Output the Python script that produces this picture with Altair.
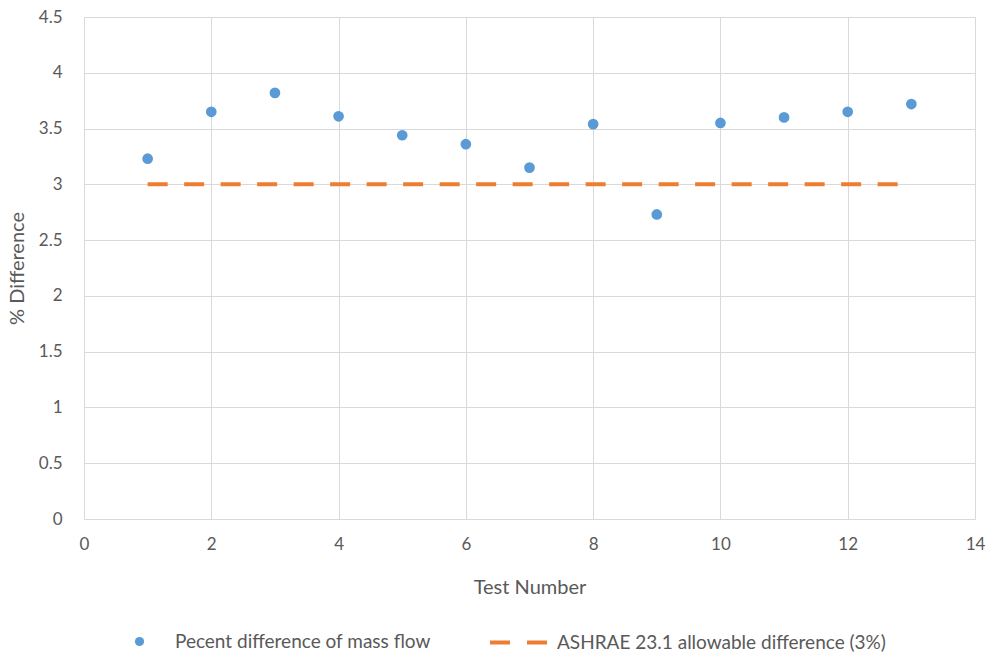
import altair as alt
import pandas as pd

tests = [1, 2, 3, 4, 5, 6, 7, 8, 9, 10, 11, 12, 13]
pct_diff = [3.23, 3.65, 3.82, 3.61, 3.44, 3.36, 3.15, 3.54, 2.73, 3.55, 3.60, 3.65, 3.72]
limit_x = [1, 13]
limit_y = [3, 3]

s1 = "Pecent difference of mass flow"
s2 = "ASHRAE 23.1 allowable difference (3%)"

df_pts = pd.DataFrame({"x": tests, "y": pct_diff, "s": s1})
df_lim = pd.DataFrame({"x": limit_x, "y": limit_y, "s": s2})

FONT = "Lato"
GREY = "#595959"

xenc = alt.X("x:Q", scale=alt.Scale(domain=[0, 14], nice=False),
             axis=alt.Axis(values=list(range(0, 15, 2)), title="Test Number", format="d",
                           grid=True, gridColor="#d9d9d9", domain=False, ticks=False,
                           labelFlush=False, labelPadding=17, titlePadding=25))
yenc = alt.Y("y:Q", scale=alt.Scale(domain=[0, 4.5], nice=False),
             axis=alt.Axis(values=[i * 0.5 for i in range(10)], title="% Difference", format="~g",
                           grid=True, gridColor="#d9d9d9", domain=False, ticks=False,
                           labelFlush=False, labelPadding=22, titlePadding=11))

points = alt.Chart(df_pts).mark_point(filled=True, size=115, opacity=1, shape="circle").encode(
    x=xenc, y=yenc,
    fill=alt.Fill("s:N", scale=alt.Scale(domain=[s1], range=["#5B9BD5"]),
                  legend=alt.Legend(title=None, orient="none", legendX=46, legendY=615,
                                    symbolType="circle", symbolSize=85, labelFontSize=19,
                                    labelOffset=26, padding=0, labelLimit=500)),
)

line = alt.Chart(df_lim).mark_line(strokeWidth=4, strokeDash=[20, 16.5]).encode(
    x="x:Q", y="y:Q",
    stroke=alt.Stroke("s:N", scale=alt.Scale(domain=[s2], range=["#ED7D31"]),
                      legend=alt.Legend(title=None, orient="none", legendX=404, legendY=595,
                                        symbolType="stroke", symbolDash=[20, 17],
                                        symbolStrokeWidth=4, symbolSize=3249,
                                        labelFontSize=19, labelOffset=8, padding=0,
                                        labelLimit=500)),
)

chart = alt.layer(line, points).properties(
    width=891, height=502,
    autosize=alt.AutoSizeParams(type="none"),
    padding={"left": 84, "top": 17, "right": 14, "bottom": 134},
).configure_view(stroke=None).configure_axis(
    labelFont=FONT, titleFont=FONT, labelColor=GREY, titleColor=GREY,
    labelFontSize=17, titleFontSize=20, titleFontWeight="normal",
).configure_legend(labelFont=FONT, labelColor=GREY)

chart.save("out.html", embed_options={"renderer": "svg", "actions": False})
